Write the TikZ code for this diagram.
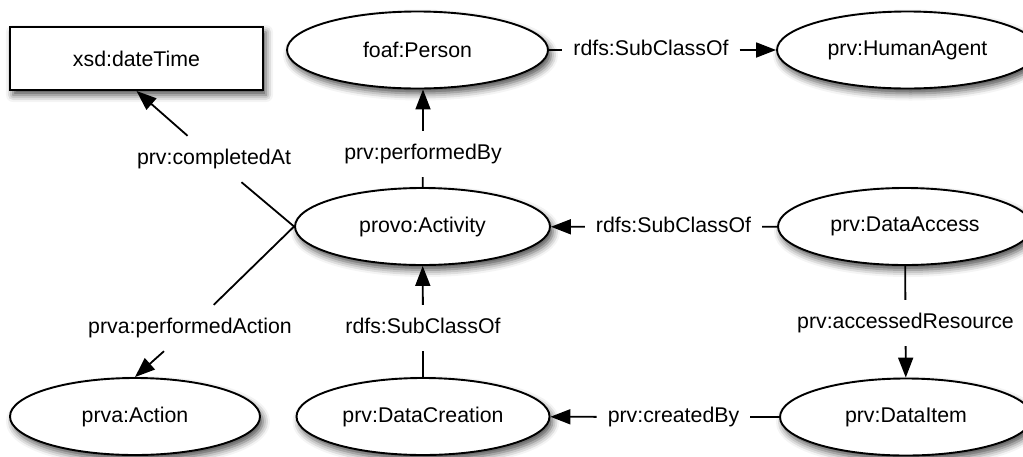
\documentclass[tikz,border=0pt]{standalone}
\usepackage{fontspec}
\setmainfont{Liberation Sans}
\usetikzlibrary{shapes.geometric,arrows.meta,shadows.blur}
\begin{document}
\begin{tikzpicture}[x=1pt,y=-1pt,
  font=\fontsize{21.3}{25}\selectfont,
  shade/.style={blur shadow={shadow xshift=3pt, shadow yshift=-5pt,
      shadow blur radius=7pt, shadow opacity=70}},
  cls/.style={ellipse, draw, line width=1.9pt, fill=white, inner sep=0pt,
      minimum height=77pt, shade},
  lit/.style={rectangle, draw, line width=1.9pt, fill=white,
      minimum width=253pt, minimum height=63pt, shade},
  rel/.style={inner xsep=11pt, inner ysep=13pt, text height=15pt, text depth=5pt},
  link/.style={line width=1.8pt},
  arr/.style={line width=1.8pt, -{Triangle[length=20pt,width=15pt]}}
]
\useasboundingbox (0,0) rectangle (1023,456);
\clip (0,0) rectangle (1023,456);

% classes and literal type
\node[lit] (dt) at (136.5,58.5) {xsd:dateTime};
\node[cls, minimum width=261pt] (person) at (417.5,50) {foaf:Person};
\node[cls, minimum width=261pt] (human) at (907.5,50) {prv:HumanAgent};
\node[cls, minimum width=255pt] (act) at (422.5,226.5) {provo:Activity};
\node[cls, minimum width=254pt] (access) at (905,226.5) {prv:DataAccess};
\node[cls, minimum width=250pt] (action) at (135,416.5) {prva:Action};
\node[cls, minimum width=253pt] (creation) at (423,416.5) {prv:DataCreation};
\node[cls, minimum width=252pt] (item) at (906,417) {prv:DataItem};

% property labels
\node[rel] (l1) at (651,50) {rdfs:SubClassOf};
\node[rel] (l2) at (423,154) {prv:performedBy};
\node[rel] (l3) at (214,159) {prv:completedAt};
\node[rel] (l4) at (673.5,227) {rdfs:SubClassOf};
\node[rel] (l5) at (190,328) {prva:performedAction};
\node[rel] (l6) at (423,328) {rdfs:SubClassOf};
\node[rel] (l7) at (905.5,323) {prv:accessedResource};
\node[rel] (l8) at (673.5,417) {prv:createdBy};

% relations
\draw[link] (person) -- (l1);  \draw[arr] (l1) -- (human);
\draw[link] (act) -- (l2);     \draw[arr] (l2) -- (l2 |- person.south);
\draw[link] (act.west) -- (l3); \draw[arr] (l3) -- (dt.south);
\draw[link] (act.west) -- (l5); \draw[arr] (l5) -- (action.north);
\draw[link] (creation) -- (l6); \draw[arr] (l6) -- (act);
\draw[link] (access) -- (l4);  \draw[arr] (l4) -- (act);
\draw[link] (access) -- (l7);  \draw[arr] (l7) -- (item);
\draw[link] (item) -- (l8);    \draw[arr] (l8) -- (creation);
\end{tikzpicture}
\end{document}
